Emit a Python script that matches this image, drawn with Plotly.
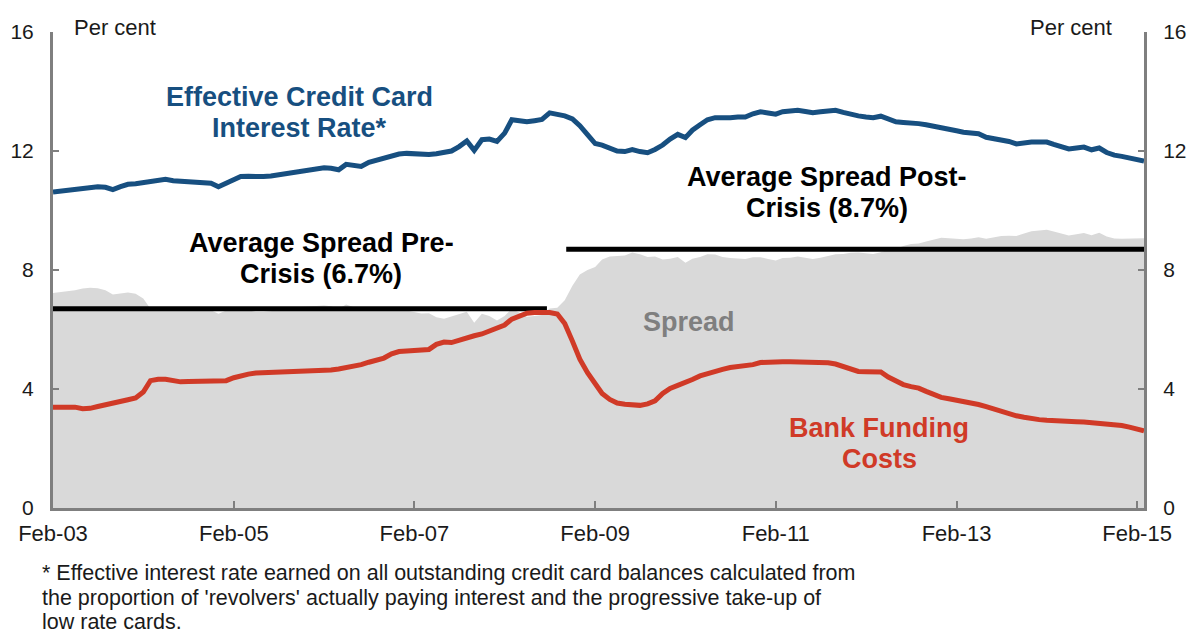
import numpy as np
import pandas as pd
import plotly.graph_objects as go

# Monthly observations, Feb-2003 to Mar-2015
months = pd.date_range("2003-02-01", "2015-03-01", freq="MS")

card_rate = [
    10.62, 10.65, 10.68, 10.71, 10.72, 10.75, 10.80, 10.78, 10.70, 10.80,
    10.88, 10.90, 10.94, 10.98, 11.03, 11.05, 11.00, 10.99, 10.98, 10.97,
    10.96, 10.92, 10.80, 10.92, 11.02, 11.14, 11.15, 11.13, 11.14, 11.16,
    11.20, 11.27, 11.30, 11.34, 11.38, 11.40, 11.44, 11.42, 11.37, 11.55,
    11.52, 11.48, 11.62, 11.70, 11.78, 11.86, 11.90, 11.92, 11.90, 11.87,
    11.88, 11.91, 11.94, 12.00, 12.15, 12.34, 12.02, 12.38, 12.40, 12.32,
    12.60, 13.05, 13.02, 12.98, 13.02, 13.06, 13.28, 13.25, 13.18, 13.08,
    12.85, 12.55, 12.25, 12.20, 12.10, 12.00, 11.98, 12.05, 11.98, 11.94,
    12.05, 12.20, 12.40, 12.56, 12.45, 12.70, 12.88, 13.05, 13.12, 13.10,
    13.12, 13.14, 13.14, 13.25, 13.32, 13.28, 13.24, 13.32, 13.33, 13.37,
    13.33, 13.29, 13.32, 13.35, 13.37, 13.30, 13.23, 13.18, 13.14, 13.12,
    13.17, 13.08, 12.98, 12.96, 12.95, 12.92, 12.88, 12.84, 12.80, 12.74,
    12.68, 12.63, 12.62, 12.58, 12.46, 12.42, 12.40, 12.32, 12.24, 12.28,
    12.30, 12.30, 12.30, 12.22, 12.14, 12.07, 12.10, 12.13, 12.04, 12.10,
    11.95, 11.86, 11.82, 11.77, 11.70, 11.66,
]

funding_cost = [
    3.39, 3.39, 3.39, 3.39, 3.34, 3.35, 3.41, 3.46, 3.52, 3.58,
    3.64, 3.70, 3.90, 4.28, 4.33, 4.33, 4.28, 4.24, 4.25, 4.26,
    4.27, 4.27, 4.27, 4.28, 4.38, 4.45, 4.50, 4.54, 4.55, 4.55,
    4.55, 4.55, 4.56, 4.58, 4.61, 4.62, 4.63, 4.64, 4.67, 4.71,
    4.76, 4.82, 4.90, 4.97, 5.04, 5.18, 5.26, 5.28, 5.30, 5.33,
    5.33, 5.50, 5.58, 5.56, 5.65, 5.74, 5.79, 5.85, 5.95, 6.02,
    6.15, 6.35, 6.46, 6.55, 6.57, 6.57, 6.57, 6.52, 6.20, 5.61,
    5.00, 4.55, 4.15, 3.85, 3.65, 3.53, 3.49, 3.46, 3.45, 3.50,
    3.60, 3.85, 4.02, 4.12, 4.21, 4.32, 4.44, 4.52, 4.60, 4.66,
    4.72, 4.75, 4.77, 4.82, 4.89, 4.91, 4.92, 4.92, 4.92, 4.92,
    4.92, 4.92, 4.91, 4.88, 4.84, 4.76, 4.65, 4.59, 4.58, 4.58,
    4.57, 4.40, 4.27, 4.15, 4.08, 4.03, 3.92, 3.82, 3.72, 3.67,
    3.63, 3.60, 3.56, 3.48, 3.41, 3.33, 3.26, 3.17, 3.10, 3.05,
    3.00, 2.97, 2.95, 2.93, 2.92, 2.91, 2.90, 2.89, 2.87, 2.85,
    2.82, 2.80, 2.77, 2.72, 2.65, 2.59,
]

# Spread = card rate less funding cost
spread = np.round(np.array(card_rate) - np.array(funding_cost), 2)

# Average spreads before and after the crisis
pre_dates = ["2003-02-01", "2008-07-21"]
pre_avg = [6.7, 6.7]
post_dates = ["2008-10-07", "2015-03-01"]
post_avg = [8.7, 8.7]

x_tick_dates = ["2003-02-01", "2005-02-01", "2007-02-01", "2009-02-01",
                "2011-02-01", "2013-02-01", "2015-02-01"]
x_tick_text = ["Feb-03", "Feb-05", "Feb-07", "Feb-09", "Feb-11", "Feb-13", "Feb-15"]
y_ticks = [0, 4, 8, 12, 16]

BLUE = "#174f80"
RED = "#d03a27"
FILL = "#d9d9d9"
AXIS = "#7f7f7f"
TEXT = "#1a1a1a"
FONT = "Liberation Sans, Arial, sans-serif"

W, H = 1192, 633
L, R, T, B = 53, 48, 32, 125


def px(x, y):
    """Pixel position -> paper coordinates."""
    return (x - L) / (W - L - R), 1 - (y - T) / (H - T - B)


fig = go.Figure()

fig.add_trace(go.Scatter(
    x=months, y=spread, mode="lines", fill="tozeroy",
    fillcolor=FILL, line=dict(width=0, color=FILL), hoverinfo="skip",
))
fig.add_trace(go.Scatter(
    x=pre_dates, y=pre_avg, mode="lines",
    line=dict(color="#000000", width=5), hoverinfo="skip",
))
fig.add_trace(go.Scatter(
    x=post_dates, y=post_avg, mode="lines",
    line=dict(color="#000000", width=5), hoverinfo="skip",
))
fig.add_trace(go.Scatter(
    x=months, y=funding_cost, mode="lines",
    line=dict(color=RED, width=5), hoverinfo="skip",
))
fig.add_trace(go.Scatter(
    x=months, y=card_rate, mode="lines", yaxis="y2",
    line=dict(color=BLUE, width=5), hoverinfo="skip",
))

axis_common = dict(
    range=[0, 16], tickvals=y_ticks, ticks="inside", ticklen=6, tickwidth=2,
    tickcolor=AXIS, showline=True, linecolor=AXIS, linewidth=3,
    showgrid=False, zeroline=False, fixedrange=True,
    tickfont=dict(family=FONT, size=21, color=TEXT),
    ticklabelstandoff=12,
)

annotations = []


def label(text, x, y, size=27, color="#000000", bold=True, anchor="center"):
    ax, ay = px(x, y)
    annotations.append(dict(
        text=f"<b>{text}</b>" if bold else text,
        x=ax, y=ay, xref="paper", yref="paper",
        xanchor=anchor, yanchor="middle", showarrow=False,
        font=dict(family=FONT, size=size, color=color),
    ))


label("Effective Credit Card", 299, 97, color=BLUE)
label("Interest Rate*", 299, 128, color=BLUE)
label("Average Spread Pre-", 321, 243)
label("Crisis (6.7%)", 321, 274)
label("Average Spread Post-", 827, 177)
label("Crisis (8.7%)", 827, 208)
label("Spread", 689, 322, color="#7f7f7f")
label("Bank Funding", 879, 428, color=RED)
label("Costs", 879, 459, color=RED)
label("Per cent", 72, 27, size=22, color=TEXT, bold=False, anchor="left")
label("Per cent", 1114, 27, size=22, color=TEXT, bold=False, anchor="right")

footnote = [
    "* Effective interest rate earned on all outstanding credit card balances calculated from",
    "the proportion of 'revolvers' actually paying interest and the progressive take-up of",
    "low rate cards.",
]
for i, line in enumerate(footnote):
    label(line, 40, 573 + 24.5 * i, size=21.5, color=TEXT, bold=False, anchor="left")

fig.update_layout(
    width=W, height=H,
    margin=dict(l=L, r=R, t=T, b=B, autoexpand=False),
    paper_bgcolor="white", plot_bgcolor="white",
    showlegend=False,
    font=dict(family=FONT),
    xaxis=dict(
        type="date", range=["2003-02-01", "2015-03-01"],
        tickvals=x_tick_dates, ticktext=x_tick_text,
        ticks="inside", ticklen=7, tickwidth=2, tickcolor=AXIS,
        showline=True, linecolor=AXIS, linewidth=3,
        showgrid=False, zeroline=False, fixedrange=True,
        tickfont=dict(family=FONT, size=22, color=TEXT),
        ticklabelstandoff=4,
    ),
    yaxis=dict(side="left", **axis_common),
    yaxis2=dict(side="right", overlaying="y", **axis_common),
    annotations=annotations,
)

fig.write_html("out.html")
